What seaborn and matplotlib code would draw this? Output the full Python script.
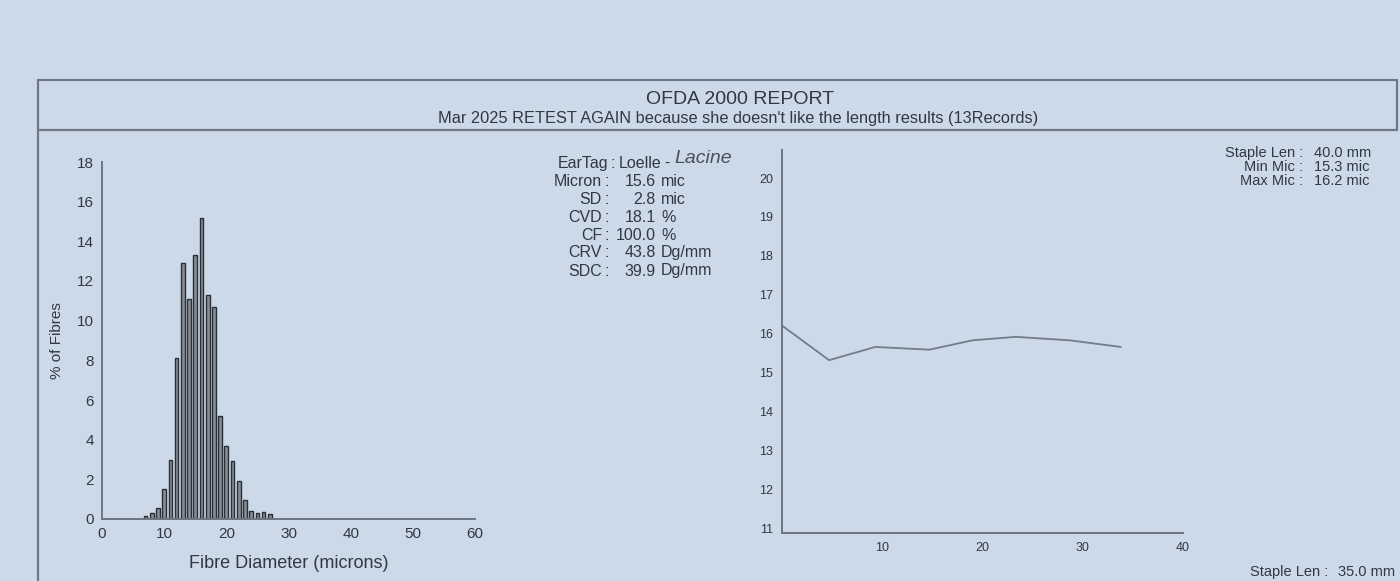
import numpy as np
import pandas as pd
import seaborn as sns
import matplotlib.pyplot as plt
from matplotlib.lines import Line2D

# fibre diameter histogram (microns -> % of fibres)
diameters = [7, 8, 9, 10, 11, 12, 13, 14, 15, 16, 17, 18, 19, 20, 21, 22, 23, 24, 25, 26, 27]
pct_fibres = [0.15, 0.3, 0.55, 1.5, 3.0, 8.1, 12.9, 11.1, 13.3, 15.2, 11.3, 10.7,
              5.2, 3.7, 2.9, 1.9, 0.95, 0.4, 0.3, 0.35, 0.25]

# micron profile along the staple (mm -> mic)
profile_len = [0, 4.7, 9.3, 14.7, 19.0, 23.3, 28.7, 33.8]
profile_mic = [16.21, 15.32, 15.66, 15.59, 15.83, 15.92, 15.83, 15.66]

hist_xticks = [0, 10, 20, 30, 40, 50, 60]
hist_yticks = [0, 2, 4, 6, 8, 10, 12, 14, 16, 18]
prof_xticks = [10, 20, 30, 40]
prof_yticks = [11, 12, 13, 14, 15, 16, 17, 18, 19, 20]

# sample summary (label, number, unit)
stats_labels = ["Micron", "SD", "CVD", "CF", "CRV", "SDC"]
stats_numbers = ["15.6", "2.8", "18.1", "100.0", "43.8", "39.9"]
stats_units = ["mic", "mic", "%", "%", "Dg/mm", "Dg/mm"]
ear_tag = "Loelle"
ear_tag_note = "Lacine"

side_labels = ["Staple Len :", "Min Mic :", "Max Mic :"]
side_values = ["40.0 mm", "15.3 mic", "16.2 mic"]

title = "OFDA 2000 REPORT"
subtitle = "Mar 2025 RETEST AGAIN because she doesn't like the length results (13Records)"

PAPER = "#cbd9e9"
INK = "#323840"
AXIS = "#6c7581"
W, H = 1400, 581

sns.set_theme(style="white")
plt.rcParams['font.family'] = ['Liberation Sans', 'DejaVu Sans']
plt.rcParams['text.color'] = INK


def fx(x):
    return x / W


def fy(y):
    return 1 - y / H


fig = plt.figure(figsize=(14, 5.81), dpi=100, facecolor=PAPER)

# report frame
frame = dict(color="#6f7884", lw=1.6, transform=fig.transFigure)
fig.add_artist(Line2D([fx(38), fx(1397)], [fy(80), fy(80)], **frame))
fig.add_artist(Line2D([fx(38), fx(1397)], [fy(130), fy(130)], **frame))
fig.add_artist(Line2D([fx(38), fx(38)], [fy(80), fy(590)], **frame))
fig.add_artist(Line2D([fx(1397), fx(1397)], [fy(80), fy(130)], **frame))

fig.text(fx(740), fy(100), title, ha="center", va="center", fontsize=14)
fig.text(fx(738), fy(118), subtitle, ha="center", va="center", fontsize=11.8)

# histogram
ax1 = fig.add_axes([fx(102), fy(519), fx(475) - fx(102), fy(162) - fy(519)])
ax1.set_facecolor("none")
hist_df = pd.DataFrame({"diameter": diameters, "pct": pct_fibres})
sns.histplot(data=hist_df, x="diameter", weights="pct", discrete=True, shrink=0.6,
             color="#868d97", edgecolor="#2a2f36", linewidth=1.0, alpha=1, ax=ax1)
ax1.set_xlim(0, 60)
ax1.set_ylim(0, 18)
ax1.set_xticks(hist_xticks)
ax1.set_yticks(hist_yticks)
ax1.set_xlabel("Fibre Diameter (microns)", fontsize=13, color=INK, labelpad=10)
ax1.set_ylabel("% of Fibres", fontsize=11, color=INK, labelpad=9)
ax1.tick_params(axis="both", labelsize=11, colors=INK, length=3, width=0.8,
                direction="out", pad=3)
ax1.tick_params(axis="both", color=AXIS)
for side in ["top", "right"]:
    ax1.spines[side].set_visible(False)
for side in ["left", "bottom"]:
    ax1.spines[side].set_color(AXIS)
    ax1.spines[side].set_linewidth(1.4)

# micron profile
ax2 = fig.add_axes([fx(782), fy(533), fx(1183) - fx(782), fy(150) - fy(533)])
ax2.set_facecolor("none")
prof_df = pd.DataFrame({"length": profile_len, "mic": profile_mic})
sns.lineplot(data=prof_df, x="length", y="mic", color="#737c88", linewidth=1.3, ax=ax2)
ax2.set_xlim(0, 40)
ax2.set_ylim(10.88, 20.72)
ax2.set_xticks(prof_xticks)
ax2.set_yticks(prof_yticks)
ax2.set_xlabel("")
ax2.set_ylabel("")
ax2.tick_params(axis="both", labelsize=9, colors=INK, length=2.5, width=0.8,
                direction="out", pad=4)
ax2.tick_params(axis="both", color=AXIS)
for side in ["top", "right"]:
    ax2.spines[side].set_visible(False)
for side in ["left", "bottom"]:
    ax2.spines[side].set_color(AXIS)
    ax2.spines[side].set_linewidth(1.4)

# sample stats block: label | colon | number (right aligned) | unit
fs = 11.5
fig.text(fx(608), fy(163), "EarTag", ha="right", va="center", fontsize=fs)
fig.text(fx(613), fy(163), ":", ha="center", va="center", fontsize=fs)
fig.text(fx(619), fy(163), ear_tag, ha="left", va="center", fontsize=fs)
fig.text(fx(664), fy(163), "-", ha="left", va="center", fontsize=fs)
fig.text(fx(674), fy(158), ear_tag_note, ha="left", va="center", fontsize=14,
         style="italic", color="#4a505a")
row_y = [181, 199, 217, 235, 253, 271]
for lab, num, unit, ry in zip(stats_labels, stats_numbers, stats_units, row_y):
    fig.text(fx(602), fy(ry), lab, ha="right", va="center", fontsize=fs)
    fig.text(fx(607), fy(ry), ":", ha="center", va="center", fontsize=fs)
    fig.text(fx(656), fy(ry), num, ha="right", va="center", fontsize=fs)
    fig.text(fx(661), fy(ry), unit, ha="left", va="center", fontsize=fs)

side_y = [153, 167, 181]
for lab, val, ry in zip(side_labels, side_values, side_y):
    fig.text(fx(1303), fy(ry), lab, ha="right", va="center", fontsize=10.5)
    fig.text(fx(1314), fy(ry), val, ha="left", va="center", fontsize=10.5)

# next record peeking in at the bottom edge
fig.text(fx(1328), fy(572), "Staple Len :", ha="right", va="center", fontsize=10.5)
fig.text(fx(1338), fy(572), "35.0 mm", ha="left", va="center", fontsize=10.5)

fig.savefig("out.png", dpi=100, facecolor=PAPER)
